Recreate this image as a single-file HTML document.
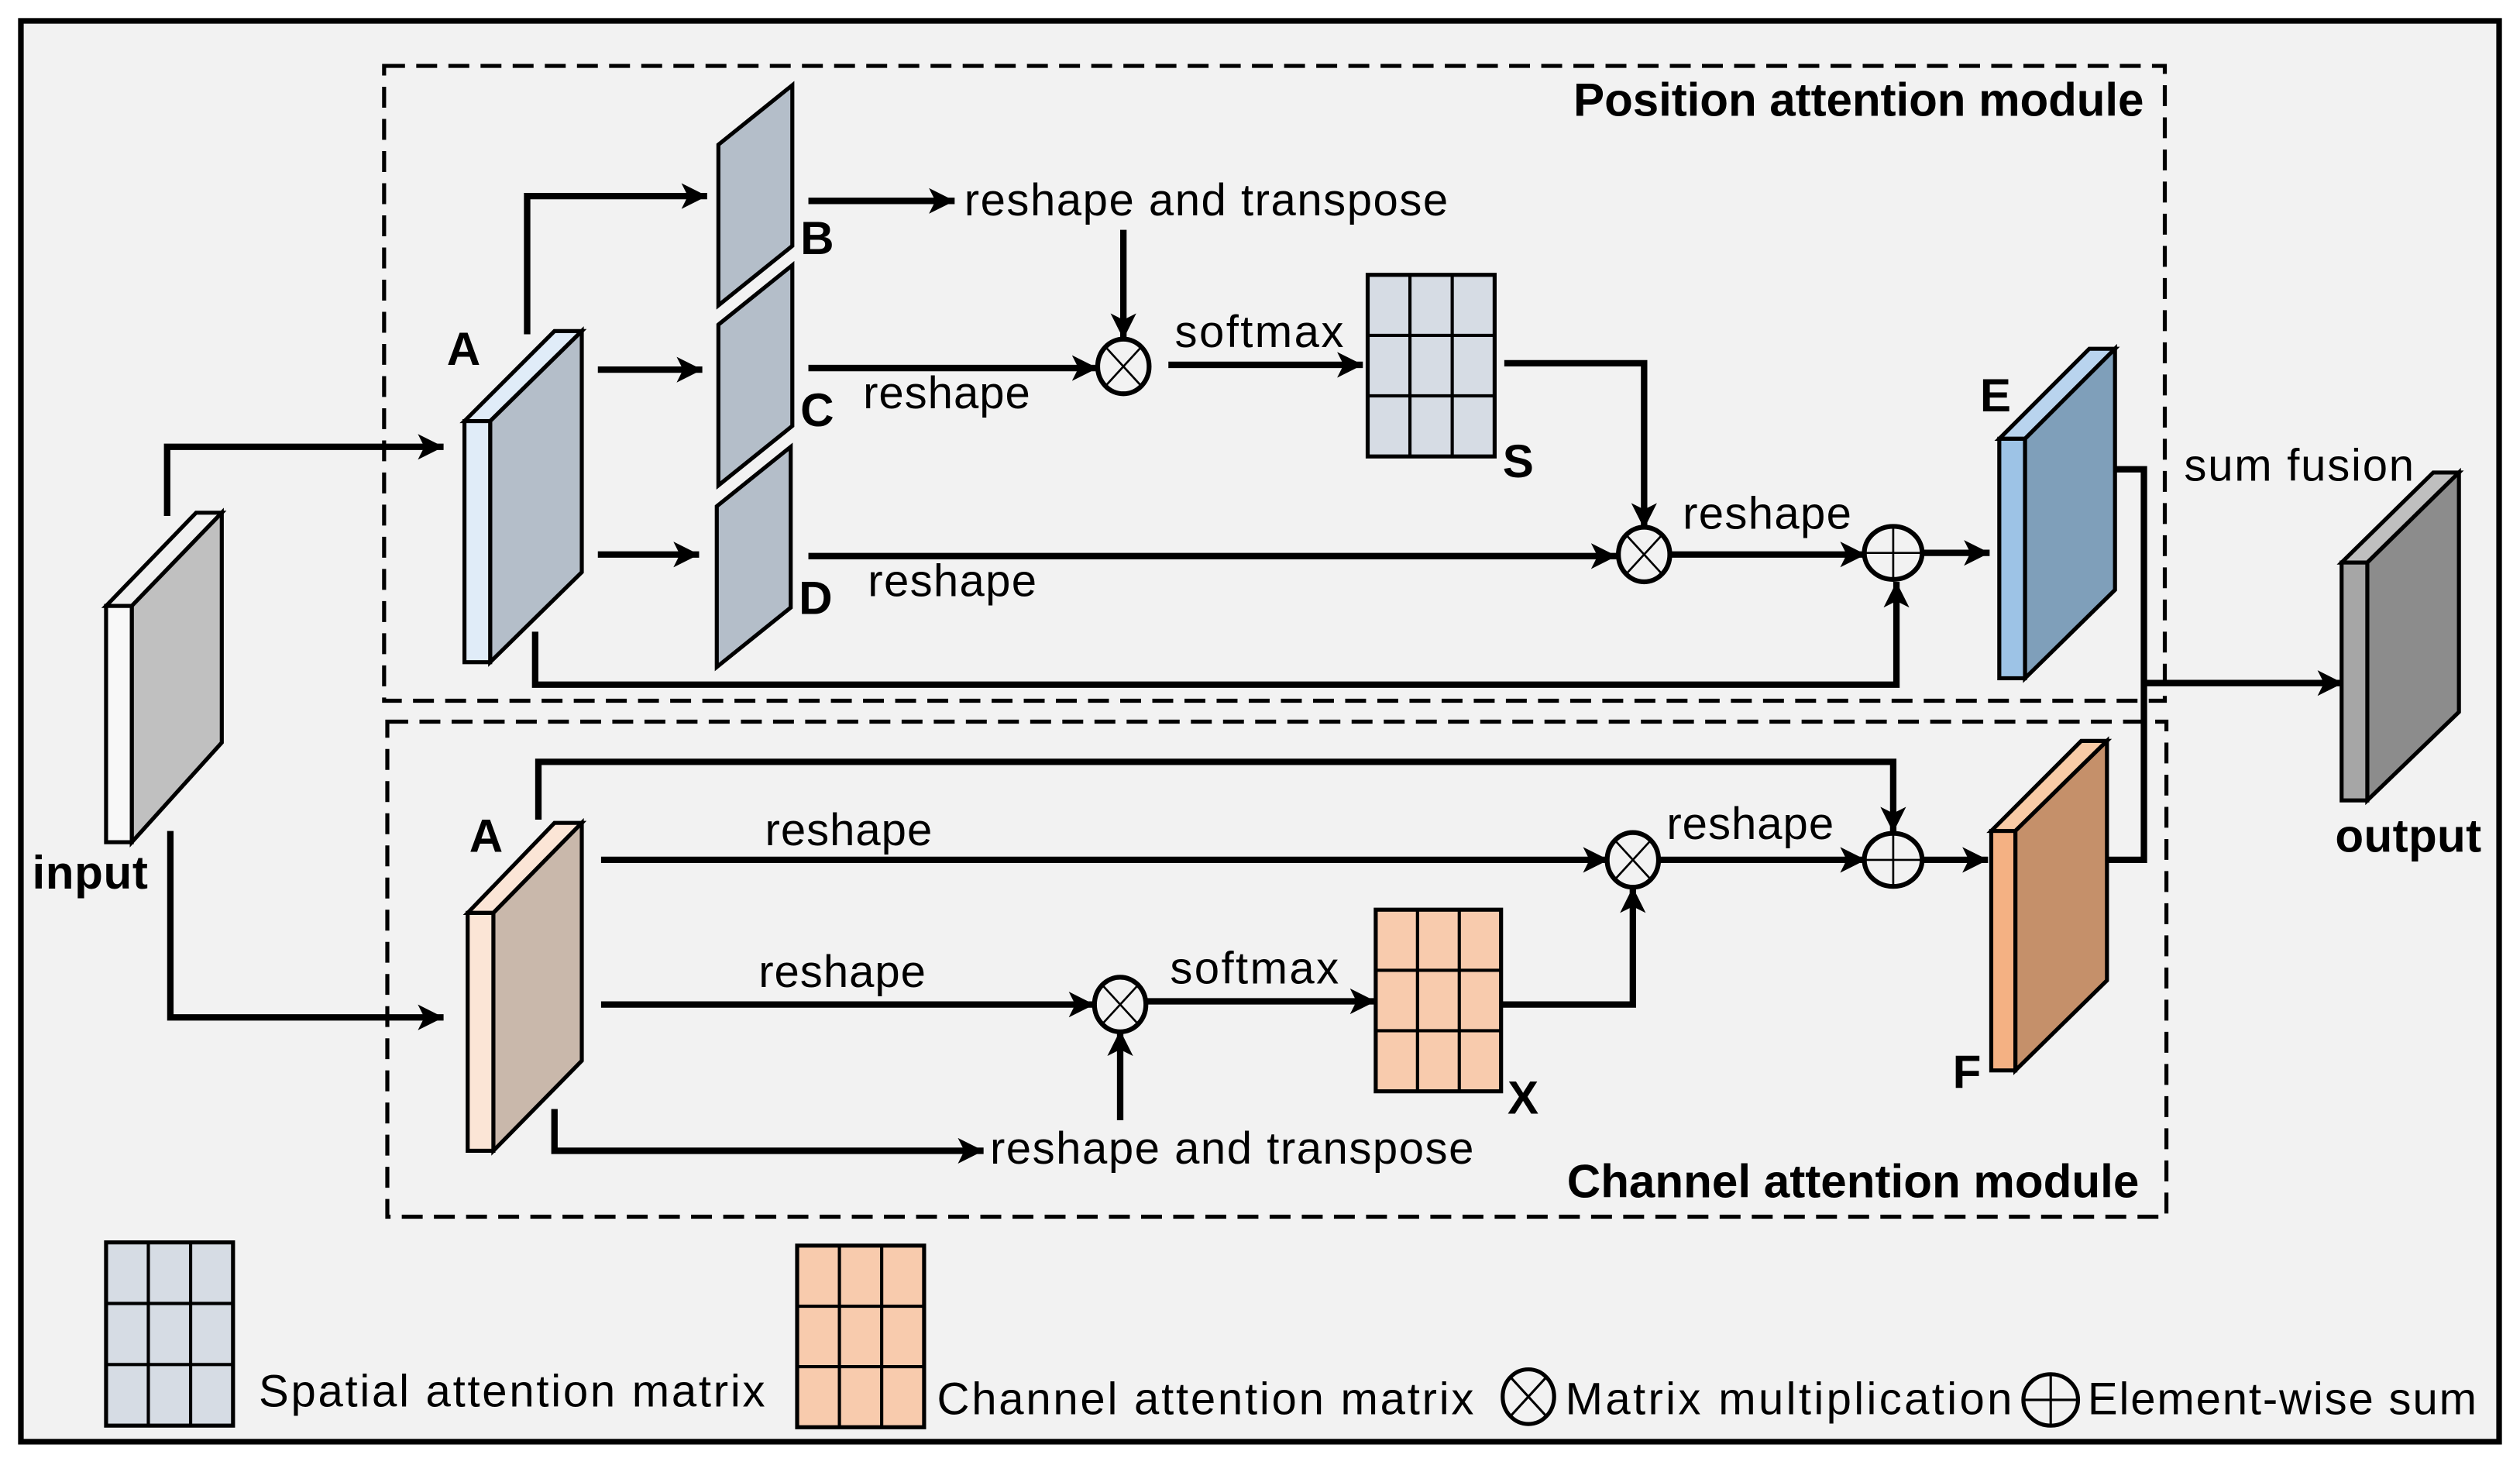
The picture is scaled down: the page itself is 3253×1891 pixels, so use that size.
<!DOCTYPE html>
<html><head><meta charset="utf-8"><style>
html,body{margin:0;padding:0;background:#fff;}
svg{display:block;}
text{font-family:"Liberation Sans",sans-serif;fill:#000;}
.t{font-size:28px;}
.b{font-size:29px;font-weight:bold;}
.ln{fill:none;stroke:#000;stroke-width:4;}
.sl{stroke:#000;stroke-width:2.5;stroke-linejoin:miter;}
.g{stroke:#000;stroke-width:2;}
</style></head><body>
<svg width="3253" height="1891" viewBox="0 0 1568 911.5" preserveAspectRatio="none" xmlns="http://www.w3.org/2000/svg">
<defs>
<marker id="ar" markerUnits="userSpaceOnUse" markerWidth="18" markerHeight="16" refX="16" refY="8" orient="auto">
<path d="M0,0 L16,8 L0,16 L4,8 Z" fill="#000"/>
</marker>
</defs>
<rect x="0" y="0" width="1568" height="911.5" fill="#fff"/>
<rect x="13" y="13" width="1542" height="884" fill="#f2f2f2" stroke="#000" stroke-width="3.5"/>
<rect x="239" y="41" width="1108" height="395" fill="none" stroke="#000" stroke-width="2.5" stroke-dasharray="13,7"/>
<rect x="241" y="449" width="1107" height="308" fill="none" stroke="#000" stroke-width="2.5" stroke-dasharray="13,7"/>

<polygon class="sl" points="66,377 122,319 138,319 82,377" fill="#f0f0f0"/>
<polygon class="sl" points="82,377 138,319 138,462 82,524" fill="#c0c0c0"/>
<rect class="sl" x="66" y="377" width="16" height="147" fill="#f8f8f8"/>
<text class="b" x="20" y="553" textLength="72">input</text>
<polyline class="ln" points="104,321 104,278 276,278" marker-end="url(#ar)"/>
<polyline class="ln" points="106,517 106,633 276,633" marker-end="url(#ar)"/>

<polygon class="sl" points="289,262 345,206 362,206 305,262" fill="#e0ecf8"/>
<polygon class="sl" points="305,262 362,206 362,356 305,412" fill="#b4bec9"/>
<rect class="sl" x="289" y="262" width="16" height="150" fill="#e0ecf8"/>
<text class="b" x="278" y="227">A</text>
<polyline class="ln" points="328,208 328,122 440,122" marker-end="url(#ar)"/>
<line class="ln" x1="372" y1="230" x2="437" y2="230" marker-end="url(#ar)"/>
<line class="ln" x1="372" y1="345" x2="435" y2="345" marker-end="url(#ar)"/>
<polyline class="ln" points="333,393 333,426 1180,426 1180,362" marker-end="url(#ar)"/>

<polygon class="sl" points="447,90 493,53 493,153 447,190" fill="#b4bec9"/>
<polygon class="sl" points="447,202 493,165 493,265 447,302" fill="#b4bec9"/>
<polygon class="sl" points="446,315 492,278 492,378 446,415" fill="#b4bec9"/>
<text class="b" x="498" y="158">B</text>
<text class="b" x="498" y="265">C</text>
<text class="b" x="497" y="382">D</text>

<line class="ln" x1="503" y1="125" x2="594" y2="125" marker-end="url(#ar)"/>
<text class="t" x="600" y="134" textLength="301">reshape and transpose</text>
<line class="ln" x1="699" y1="143" x2="699" y2="211" marker-end="url(#ar)"/>
<line class="ln" x1="503" y1="229" x2="683" y2="229" marker-end="url(#ar)"/>
<text class="t" x="537" y="254" textLength="104">reshape</text>
<text class="t" x="731" y="216" textLength="105">softmax</text>
<line class="ln" x1="727" y1="227" x2="848" y2="227" marker-end="url(#ar)"/>
<rect x="851" y="171" width="79" height="113" fill="#d6dce4" stroke="#000" stroke-width="2.5"/>
<line class="g" x1="877.3" y1="171" x2="877.3" y2="284"/><line class="g" x1="903.6" y1="171" x2="903.6" y2="284"/>
<line class="g" x1="851" y1="208.7" x2="930" y2="208.7"/><line class="g" x1="851" y1="246.3" x2="930" y2="246.3"/>
<text class="b" x="935" y="297">S</text>
<polyline class="ln" points="936,226 1023,226 1023,329" marker-end="url(#ar)"/>
<line class="ln" x1="503" y1="346" x2="1006" y2="346" marker-end="url(#ar)"/>
<text class="t" x="540" y="371" textLength="105">reshape</text>
<line class="ln" x1="1040" y1="345" x2="1161" y2="345" marker-end="url(#ar)"/>
<text class="t" x="1047" y="329" textLength="105">reshape</text>
<line class="ln" x1="1196" y1="344" x2="1238" y2="344" marker-end="url(#ar)"/>

<polygon class="sl" points="1244,273 1300,217 1316,217 1260,273" fill="#b9d4ee"/>
<polygon class="sl" points="1260,273 1316,217 1316,367 1260,422" fill="#7f9fba"/>
<rect class="sl" x="1244" y="273" width="16" height="149" fill="#9dc3e6"/>
<text class="b" x="1232" y="256">E</text>
<polyline class="ln" points="1316,292 1334,292 1334,535 1310,535"/>
<line class="ln" x1="1334" y1="425" x2="1458" y2="425" marker-end="url(#ar)"/>
<text class="t" x="1359" y="299" textLength="143">sum fusion</text>

<polygon class="sl" points="1457,350 1514,294 1530,294 1473,350" fill="#bfbfbf"/>
<polygon class="sl" points="1473,350 1530,294 1530,443 1473,498" fill="#8c8c8c"/>
<rect class="sl" x="1457" y="350" width="16" height="148" fill="#a6a6a6"/>
<text class="b" x="1453" y="530" textLength="91">output</text>

<polygon class="sl" points="291,568 345,512 362,512 307,568" fill="#fbe5d6"/>
<polygon class="sl" points="307,568 362,512 362,660 307,716" fill="#c9b8ab"/>
<rect class="sl" x="291" y="568" width="16" height="148" fill="#fbe5d6"/>
<text class="b" x="292" y="530">A</text>
<polyline class="ln" points="335,510 335,474 1178,474 1178,518" marker-end="url(#ar)"/>
<line class="ln" x1="374" y1="535" x2="1001" y2="535" marker-end="url(#ar)"/>
<text class="t" x="476" y="526" textLength="104">reshape</text>
<line class="ln" x1="1032" y1="535" x2="1161" y2="535" marker-end="url(#ar)"/>
<text class="t" x="1037" y="522" textLength="104">reshape</text>
<line class="ln" x1="1196" y1="535" x2="1237" y2="535" marker-end="url(#ar)"/>
<line class="ln" x1="374" y1="625" x2="681" y2="625" marker-end="url(#ar)"/>
<text class="t" x="472" y="614" textLength="104">reshape</text>
<text class="t" x="728" y="612" textLength="105">softmax</text>
<line class="ln" x1="714" y1="623" x2="856" y2="623" marker-end="url(#ar)"/>
<rect x="856" y="566" width="78" height="113" fill="#f8cbad" stroke="#000" stroke-width="2.5"/>
<line class="g" x1="882" y1="566" x2="882" y2="679"/><line class="g" x1="908" y1="566" x2="908" y2="679"/>
<line class="g" x1="856" y1="603.7" x2="934" y2="603.7"/><line class="g" x1="856" y1="641.3" x2="934" y2="641.3"/>
<text class="b" x="938" y="693">X</text>
<polyline class="ln" points="934,625 1016,625 1016,552" marker-end="url(#ar)"/>
<polyline class="ln" points="345,690 345,716 612,716" marker-end="url(#ar)"/>
<text class="t" x="616" y="724" textLength="301">reshape and transpose</text>
<line class="ln" x1="697" y1="697" x2="697" y2="641" marker-end="url(#ar)"/>

<polygon class="sl" points="1239,517 1295,461 1311,461 1254,517" fill="#f8cba6"/>
<polygon class="sl" points="1254,517 1311,461 1311,610 1254,666" fill="#c5906a"/>
<rect class="sl" x="1239" y="517" width="15" height="149" fill="#f4b183"/>
<text class="b" x="1215" y="677">F</text>

<text class="b" x="979" y="72" textLength="355">Position attention module</text>
<text class="b" x="975" y="745" textLength="356">Channel attention module</text>

<g fill="#f2f2f2" stroke="#000">
<g transform="translate(699,228)"><ellipse rx="16" ry="17" stroke-width="3"/><path d="M-11,-12 L11,12 M11,-12 L-11,12" stroke-width="1.3"/></g>
<g transform="translate(1023,345)"><ellipse rx="16" ry="17" stroke-width="3"/><path d="M-11,-12 L11,12 M11,-12 L-11,12" stroke-width="1.3"/></g>
<g transform="translate(1016,535)"><ellipse rx="16" ry="17" stroke-width="3"/><path d="M-11,-12 L11,12 M11,-12 L-11,12" stroke-width="1.3"/></g>
<g transform="translate(697,625)"><ellipse rx="16" ry="17" stroke-width="3"/><path d="M-11,-12 L11,12 M11,-12 L-11,12" stroke-width="1.3"/></g>
<g transform="translate(1178,344)"><ellipse rx="18" ry="16.5" stroke-width="3"/><path d="M-18,0 L18,0 M0,-16.5 L0,16.5" stroke-width="1.3"/></g>
<g transform="translate(1178,535)"><ellipse rx="18" ry="16.5" stroke-width="3"/><path d="M-18,0 L18,0 M0,-16.5 L0,16.5" stroke-width="1.3"/></g>
<g transform="translate(951,869)"><ellipse rx="16" ry="17" stroke-width="2.5"/><path d="M-11,-12 L11,12 M11,-12 L-11,12" stroke-width="1.5"/></g>
<g transform="translate(1276,871)"><ellipse rx="17" ry="16" stroke-width="2.5"/><path d="M-17,0 L17,0 M0,-16 L0,16" stroke-width="1.5"/></g>
</g>

<rect x="66" y="773" width="79" height="114" fill="#d6dce4" stroke="#000" stroke-width="2.5"/>
<line class="g" x1="92.3" y1="773" x2="92.3" y2="887"/><line class="g" x1="118.6" y1="773" x2="118.6" y2="887"/>
<line class="g" x1="66" y1="811" x2="145" y2="811"/><line class="g" x1="66" y1="849" x2="145" y2="849"/>
<text class="t" x="161" y="875" textLength="315">Spatial attention matrix</text>
<rect x="496" y="775" width="79" height="113" fill="#f8cbad" stroke="#000" stroke-width="2.5"/>
<line class="g" x1="522.3" y1="775" x2="522.3" y2="888"/><line class="g" x1="548.6" y1="775" x2="548.6" y2="888"/>
<line class="g" x1="496" y1="812.7" x2="575" y2="812.7"/><line class="g" x1="496" y1="850.3" x2="575" y2="850.3"/>
<text class="t" x="583" y="880" textLength="334">Channel attention matrix</text>
<text class="t" x="974" y="880" textLength="278">Matrix multiplication</text>
<text class="t" x="1299" y="880" textLength="242">Element-wise sum</text>
</svg>
</body></html>
